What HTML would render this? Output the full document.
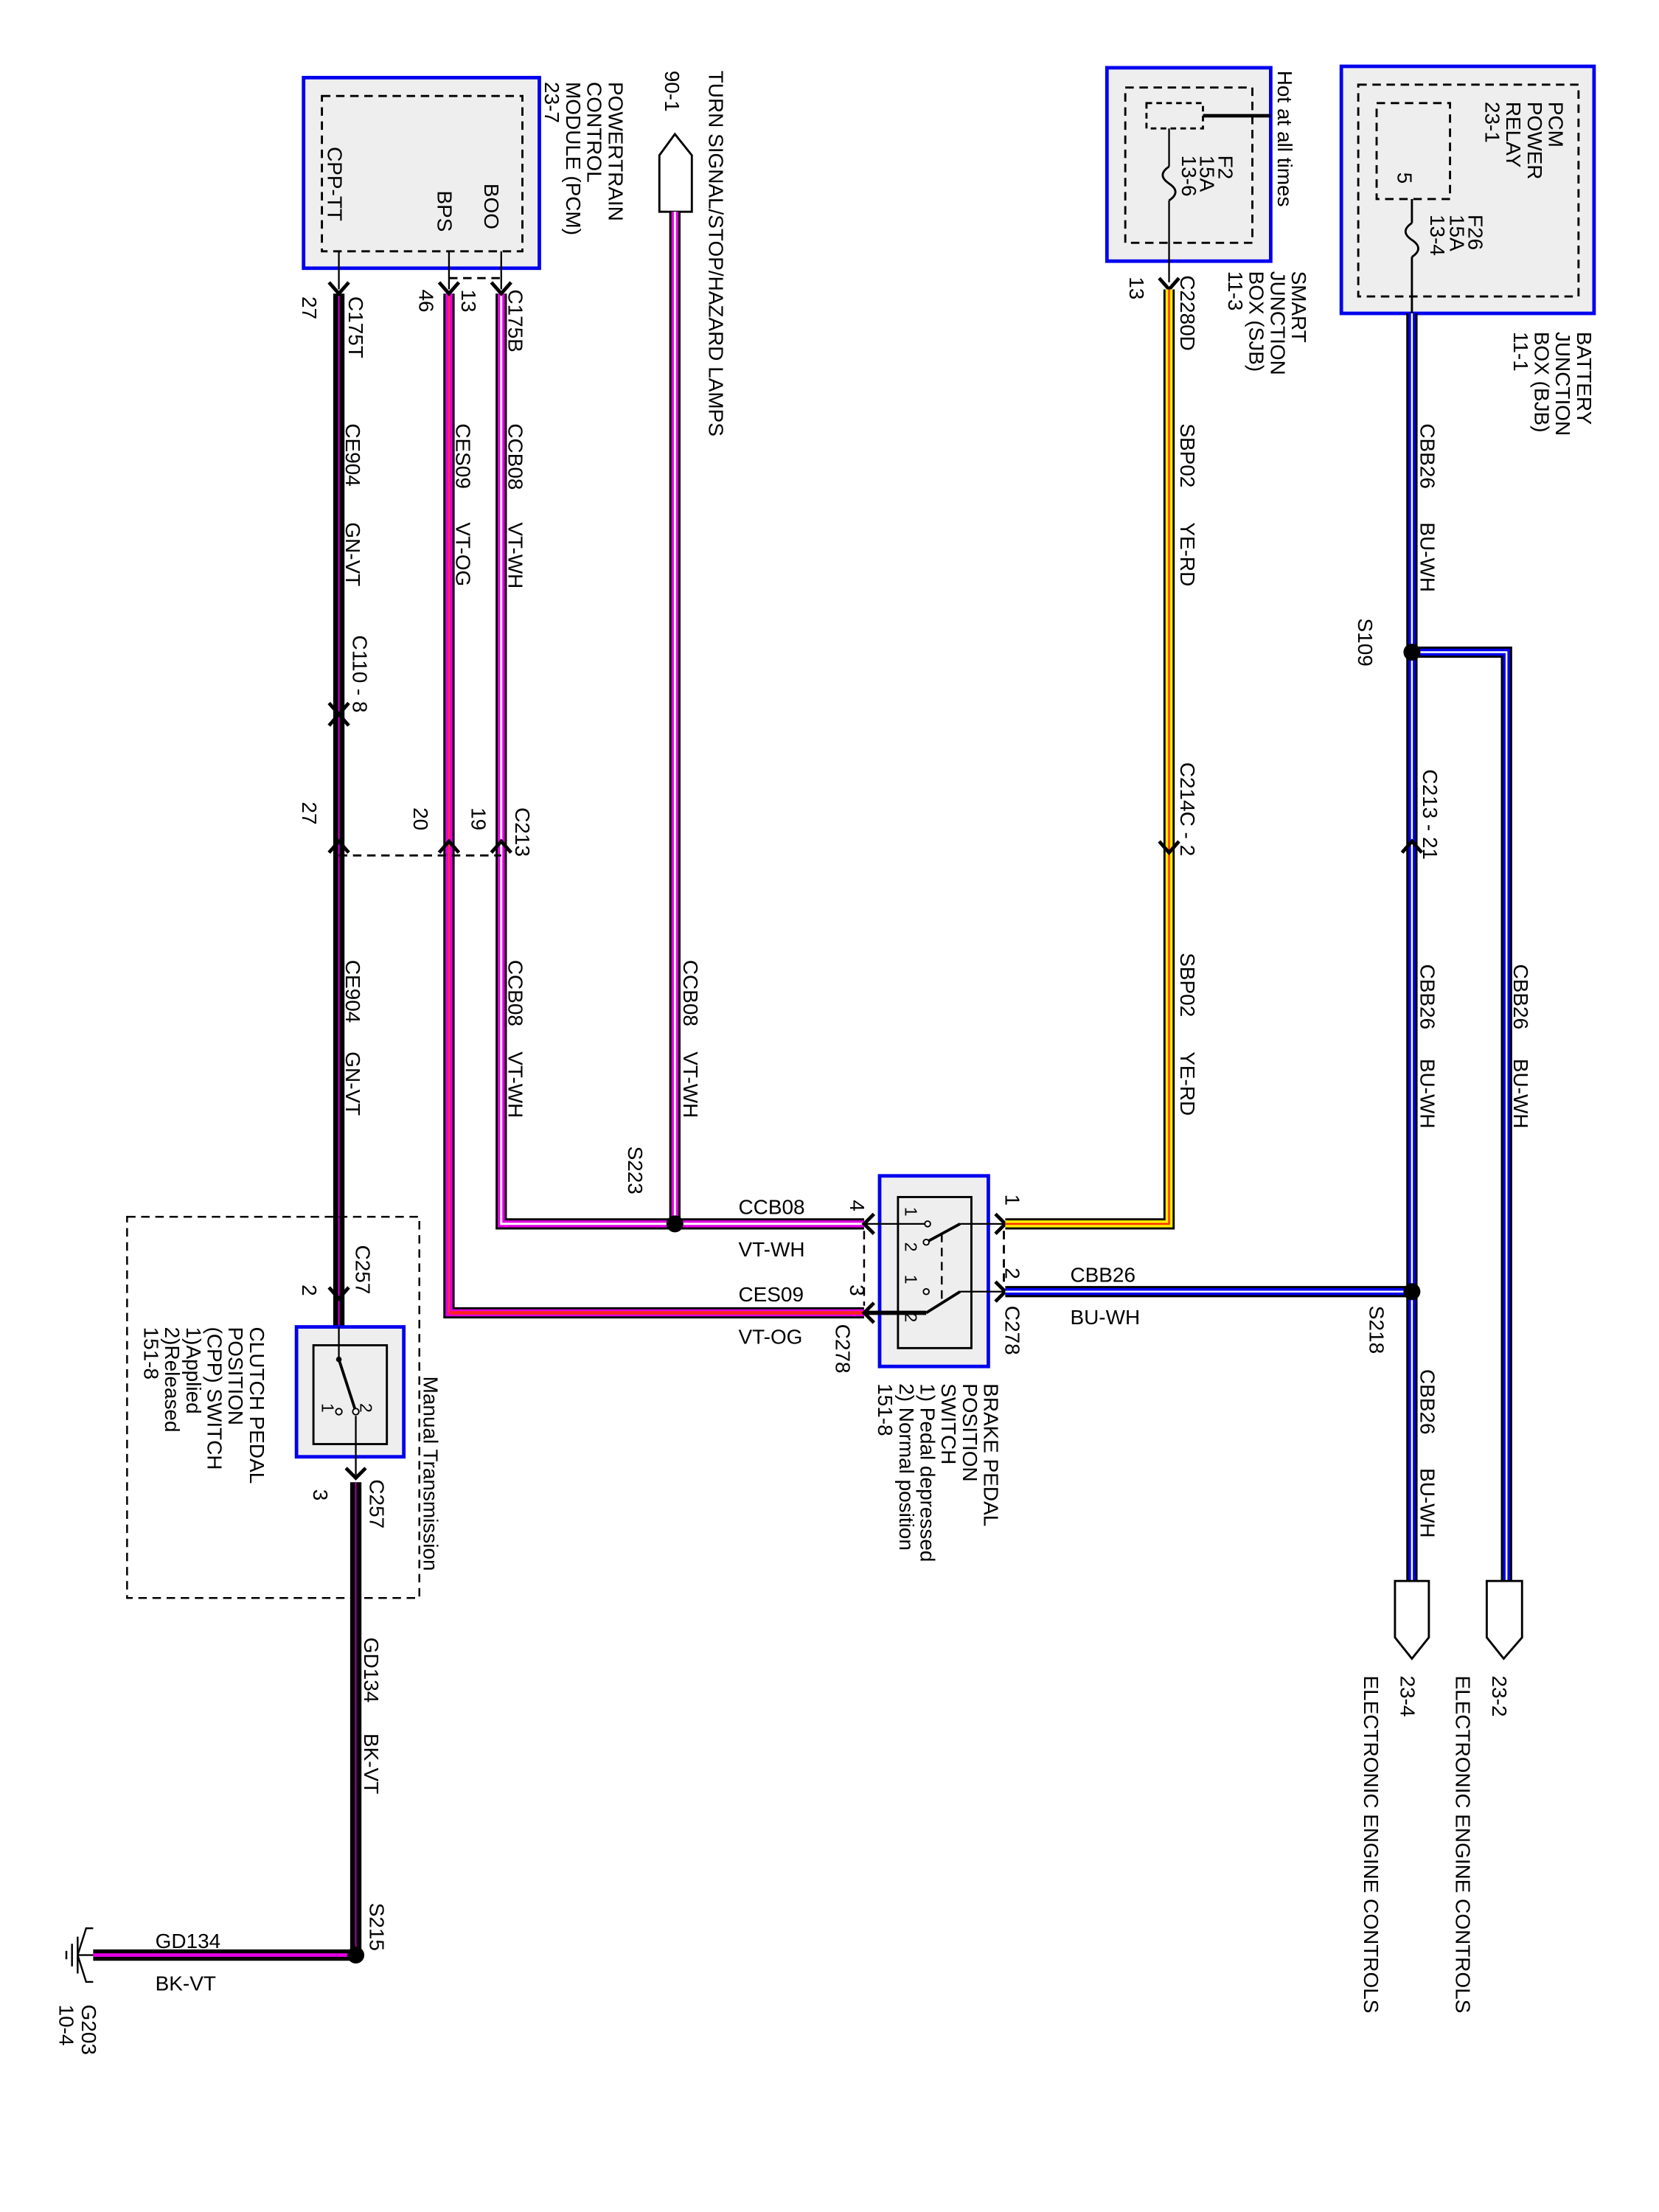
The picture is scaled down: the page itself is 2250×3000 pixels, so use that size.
<!DOCTYPE html>
<html><head><meta charset="utf-8"><style>
html,body{margin:0;padding:0;background:#fff}
svg{display:block}
text{font-family:"Liberation Sans",Arial,sans-serif;font-size:14.6px;fill:#000}
</style></head><body>
<svg width="2250" height="3000" viewBox="0 0 1175 1567" preserveAspectRatio="none" xmlns="http://www.w3.org/2000/svg">
<defs>
<style>
.o{fill:none;stroke:#000;stroke-width:8;stroke-linecap:butt}
.th{fill:none;stroke:#000;stroke-width:1.2}
.d{fill:none;stroke:#000;stroke-width:1.5;stroke-dasharray:6 4}
.box{fill:#eee;stroke:#0000ee;stroke-width:2.5}
.ch{fill:none;stroke:#000;stroke-width:2.5}
</style>
</defs>

<!-- PCM box -->
<rect class="box" x="215" y="55" width="167" height="135"/>
<rect class="d" x="228" y="68" width="142" height="110"/>
<text transform="translate(343,130) rotate(90)">BOO</text>
<text transform="translate(310,135) rotate(90)">BPS</text>
<text transform="translate(232,104) rotate(90)">CPP-TT</text>
<text transform="translate(431,58) rotate(90)">POWERTRAIN</text>
<text transform="translate(416,58) rotate(90)">CONTROL</text>
<text transform="translate(401,58) rotate(90)">MODULE (PCM)</text>
<text transform="translate(386,58) rotate(90)">23-7</text>
<line class="th" x1="240" y1="178" x2="240" y2="205"/>
<line class="th" x1="318" y1="178" x2="318" y2="205"/>
<line class="th" x1="355" y1="178" x2="355" y2="205"/>
<line class="d" x1="318" y1="197" x2="355" y2="197"/>

<!-- Turn signal connector -->
<path d="M467,110 L478,95 L490,110 L490,150 L467,150 Z" fill="#fff" stroke="#000" stroke-width="1.5"/>
<text transform="translate(502,50) rotate(90)">TURN SIGNAL/STOP/HAZARD LAMPS</text>
<text transform="translate(471,50) rotate(90)">90-1</text>

<!-- Wires: GN-VT (black) -->
<path class="o" d="M240,208 L240,940"/>
<path d="M240,208 L240,940" stroke="#e000e0" stroke-width="1" fill="none"/>
<line class="th" x1="240" y1="940" x2="240" y2="975"/>
<!-- VT-OG -->
<path class="o" d="M318,208 L318,930 L612,930"/>
<path d="M318,208 L318,930 L612,930" stroke="#e000e0" stroke-width="5" fill="none"/>
<path d="M318,208 L318,930" stroke="#ff3030" stroke-width="1.2" fill="none"/>
<path d="M318,930 L612,930" stroke="#ff2020" stroke-width="2.5" fill="none"/>
<!-- VT-WH -->
<path class="o" d="M355,208 L355,867 L612,867"/>
<path d="M355,208 L355,867 L612,867" stroke="#e000e0" stroke-width="5" fill="none"/>
<path d="M355,208 L355,867 L612,867" stroke="#fff" stroke-width="1.5" fill="none"/>
<path class="o" d="M478,150 L478,867"/>
<path d="M478,150 L478,867" stroke="#e000e0" stroke-width="5" fill="none"/>
<path d="M478,150 L478,867" stroke="#fff" stroke-width="1.5" fill="none"/>
<circle cx="478" cy="867" r="6"/>

<!-- chevrons PCM -->
<path class="ch" d="M233,200 L240,208 L247,200 M311,200 L318,208 L325,200 M348,200 L355,208 L362,200"/>
<text transform="translate(360,205) rotate(90)">C175B</text>
<text transform="translate(327,205) rotate(90)">13</text>
<text transform="translate(297,205) rotate(90)">46</text>
<text transform="translate(247,210) rotate(90)">C175T</text>
<text transform="translate(214,210) rotate(90)">27</text>
<text transform="translate(360,300) rotate(90)">CCB08</text>
<text transform="translate(360,370) rotate(90)">VT-WH</text>
<text transform="translate(323,300) rotate(90)">CES09</text>
<text transform="translate(323,370) rotate(90)">VT-OG</text>
<text transform="translate(245,300) rotate(90)">CE904</text>
<text transform="translate(245,370) rotate(90)">GN-VT</text>
<text transform="translate(250,450) rotate(90)">C110  -  8</text>
<path class="ch" d="M233,498 L240,506 L247,498 M233,514 L240,506 L247,514"/>
<!-- C213 -->
<path class="ch" d="M233,604 L240,596 L247,604 M311,604 L318,596 L325,604 M348,604 L355,596 L362,604"/>
<line class="d" x1="240" y1="606" x2="355" y2="606"/>
<text transform="translate(214,568) rotate(90)">27</text>
<text transform="translate(293,572) rotate(90)">20</text>
<text transform="translate(334,572) rotate(90)">19</text>
<text transform="translate(365,572) rotate(90)">C213</text>
<text transform="translate(245,680) rotate(90)">CE904</text>
<text transform="translate(245,745) rotate(90)">GN-VT</text>
<text transform="translate(360,680) rotate(90)">CCB08</text>
<text transform="translate(360,745) rotate(90)">VT-WH</text>
<text transform="translate(484,680) rotate(90)">CCB08</text>
<text transform="translate(484,745) rotate(90)">VT-WH</text>
<text transform="translate(445,812) rotate(90)">S223</text>

<!-- Clutch switch -->
<rect x="90" y="862" width="207" height="270" fill="none" stroke="#000" stroke-width="1.3" stroke-dasharray="6 4"/>
<path class="ch" d="M233,912 L240,920 L247,912"/>
<text transform="translate(252,882) rotate(90)">C257</text>
<text transform="translate(214,910) rotate(90)">2</text>
<rect class="box" x="210" y="940" width="76" height="92"/>
<rect x="222" y="953" width="52" height="70" fill="none" stroke="#000" stroke-width="1.5"/>
<line class="th" x1="240" y1="940" x2="240" y2="963"/>
<line x1="240" y1="963" x2="252" y2="1000" stroke="#000" stroke-width="2"/>
<circle cx="240" cy="963" r="2"/>
<circle cx="252" cy="1000" r="2.2" fill="#fff" stroke="#000"/>
<circle cx="240" cy="1000" r="2.2" fill="#fff" stroke="#000"/>
<text transform="translate(255,994) rotate(90)" style="font-size:12px">2</text>
<text transform="translate(228,994) rotate(90)" style="font-size:12px">1</text>
<line class="th" x1="252" y1="1003" x2="252" y2="1045"/>
<path class="ch" d="M245,1040 L252,1047 L259,1040"/>
<text transform="translate(300,975) rotate(90)">Manual Transmission</text>
<text transform="translate(262,1048) rotate(90)">C257</text>
<text transform="translate(222,1055) rotate(90)">3</text>
<text transform="translate(177,940) rotate(90)">CLUTCH PEDAL</text>
<text transform="translate(162,940) rotate(90)">POSITION</text>
<text transform="translate(147,940) rotate(90)">(CPP) SWITCH</text>
<text transform="translate(132,940) rotate(90)">1)Applied</text>
<text transform="translate(117,940) rotate(90)">2)Released</text>
<text transform="translate(102,940) rotate(90)">151-8</text>

<!-- GD134 -->
<path class="o" d="M252,1050 L252,1385"/>
<path d="M252,1050 L252,1385" stroke="#b000b0" stroke-width="1" fill="none"/>
<path class="o" d="M252,1385 L66,1385"/>
<path d="M252,1385 L66,1385" stroke="#e000e0" stroke-width="2.5" fill="none"/>
<circle cx="252" cy="1385" r="6"/>
<text transform="translate(258,1160) rotate(90)">GD134</text>
<text transform="translate(258,1228) rotate(90)">BK-VT</text>
<text transform="translate(262,1348) rotate(90)">S215</text>
<text x="110" y="1380">GD134</text>
<text x="110" y="1410">BK-VT</text>
<path d="M66,1385 L55,1385 M55,1372 L55,1398 M51,1377 L51,1393 M47,1382 L47,1388 M66,1366 L61,1366 L55,1385 L61,1404 L66,1404" fill="none" stroke="#000" stroke-width="1.3"/>
<text transform="translate(58,1420) rotate(90)">G203</text>
<text transform="translate(42,1420) rotate(90)">10-4</text>

<!-- Brake switch -->
<rect class="box" x="623" y="833" width="77" height="135"/>
<rect x="636" y="848" width="52" height="107" fill="none" stroke="#000" stroke-width="1.5"/>
<line class="th" x1="612" y1="867" x2="657" y2="867"/>
<line class="th" x1="680" y1="867" x2="712" y2="867"/>
<line x1="680" y1="867" x2="656" y2="880" stroke="#000" stroke-width="2"/>
<circle cx="657" cy="867" r="2" fill="#fff" stroke="#000"/>
<circle cx="656" cy="880" r="2" fill="#fff" stroke="#000"/>
<line x1="612" y1="930" x2="656" y2="930" stroke="#000" stroke-width="3"/>
<line class="th" x1="680" y1="915" x2="712" y2="915"/>
<line x1="680" y1="915" x2="656" y2="930" stroke="#000" stroke-width="2"/>
<circle cx="656" cy="915" r="2" fill="#fff" stroke="#000"/>
<line x1="667" y1="874" x2="667" y2="921" stroke="#000" stroke-width="1.3" stroke-dasharray="6 4"/>
<line x1="612" y1="872" x2="612" y2="925" stroke="#000" stroke-width="1.3" stroke-dasharray="6 4"/>
<line x1="711" y1="872" x2="711" y2="910" stroke="#000" stroke-width="1.5" stroke-dasharray="6 4"/>
<path class="ch" d="M619,860 L612,867 L619,874 M619,923 L612,930 L619,937 M705,860 L712,867 L705,874 M705,908 L712,915 L705,922"/>
<text transform="translate(641,855) rotate(90)" style="font-size:12px">1</text>
<text transform="translate(641,880) rotate(90)" style="font-size:12px">2</text>
<text transform="translate(641,903) rotate(90)" style="font-size:12px">1</text>
<text transform="translate(641,930) rotate(90)" style="font-size:12px">2</text>
<text x="523" y="860">CCB08</text>
<text x="523" y="890">VT-WH</text>
<text x="523" y="922">CES09</text>
<text x="523" y="952">VT-OG</text>
<text transform="translate(602,850) rotate(90)">4</text>
<text transform="translate(602,910) rotate(90)">3</text>
<text transform="translate(712,846) rotate(90)">1</text>
<text transform="translate(712,898) rotate(90)">2</text>
<text transform="translate(592,938) rotate(90)">C278</text>
<text transform="translate(712,925) rotate(90)">C278</text>
<text x="758" y="908">CBB26</text>
<text x="758" y="938">BU-WH</text>
<text transform="translate(697,980) rotate(90)">BRAKE PEDAL</text>
<text transform="translate(682,980) rotate(90)">POSITION</text>
<text transform="translate(667,980) rotate(90)">SWITCH</text>
<text transform="translate(652,980) rotate(90)">1) Pedal depressed</text>
<text transform="translate(637,980) rotate(90)">2) Normal position</text>
<text transform="translate(622,980) rotate(90)">151-8</text>

<!-- SJB -->
<rect class="box" x="784" y="48" width="116" height="137"/>
<rect class="d" x="797" y="62" width="90" height="110"/>
<rect class="d" x="812" y="73" width="40" height="18" style="stroke-dasharray:4 3"/>
<line x1="852" y1="82" x2="900" y2="82" stroke="#000" stroke-width="2.5"/>
<line class="th" x1="828" y1="91" x2="828" y2="118"/>
<path d="M828,118 C822,122 822,126 828,130 C834,134 834,138 828,142" fill="none" stroke="#000" stroke-width="1.5"/>
<line class="th" x1="828" y1="142" x2="828" y2="200"/>
<path class="ch" d="M821,197 L828,205 L835,197"/>
<text transform="translate(905,50) rotate(90)">Hot at all times</text>
<text transform="translate(863,110) rotate(90)">F2</text>
<text transform="translate(850,110) rotate(90)">15A</text>
<text transform="translate(837,110) rotate(90)">13-6</text>
<text transform="translate(915,192) rotate(90)">SMART</text>
<text transform="translate(900,192) rotate(90)">JUNCTION</text>
<text transform="translate(885,192) rotate(90)">BOX (SJB)</text>
<text transform="translate(870,192) rotate(90)">11-3</text>
<text transform="translate(800,196) rotate(90)">13</text>
<text transform="translate(836,195) rotate(90)">C2280D</text>
<!-- YE-RD -->
<path class="o" d="M828,205 L828,867 L712,867"/>
<path d="M828,205 L828,867 L712,867" stroke="#ffee00" stroke-width="5" fill="none"/>
<path d="M828,205 L828,867 L712,867" stroke="#ff3000" stroke-width="1.3" fill="none"/>
<path class="ch" d="M821,596 L828,604 L835,596"/>
<text transform="translate(836,300) rotate(90)">SBP02</text>
<text transform="translate(836,370) rotate(90)">YE-RD</text>
<text transform="translate(836,540) rotate(90)">C214C  -  2</text>
<text transform="translate(836,675) rotate(90)">SBP02</text>
<text transform="translate(836,745) rotate(90)">YE-RD</text>

<!-- BJB -->
<rect class="box" x="950" y="47" width="179" height="175"/>
<rect class="d" x="962" y="60" width="156" height="150"/>
<rect class="d" x="975" y="73" width="52" height="68"/>
<line x1="1000" y1="141" x2="1000" y2="158" stroke="#000" stroke-width="1.5"/>
<path d="M1000,158 C994,162 994,166 1000,170 C1006,174 1006,178 1000,182" fill="none" stroke="#000" stroke-width="1.5"/>
<line x1="1000" y1="182" x2="1000" y2="222" stroke="#000" stroke-width="1.5"/>
<text transform="translate(1097,72) rotate(90)">PCM</text>
<text transform="translate(1082,72) rotate(90)">POWER</text>
<text transform="translate(1067,72) rotate(90)">RELAY</text>
<text transform="translate(1052,72) rotate(90)">23-1</text>
<text transform="translate(990,122) rotate(90)">5</text>
<text transform="translate(1040,152) rotate(90)">F26</text>
<text transform="translate(1027,152) rotate(90)">15A</text>
<text transform="translate(1013,152) rotate(90)">13-4</text>
<text transform="translate(1117,235) rotate(90)">BATTERY</text>
<text transform="translate(1102,235) rotate(90)">JUNCTION</text>
<text transform="translate(1087,235) rotate(90)">BOX (BJB)</text>
<text transform="translate(1072,235) rotate(90)">11-1</text>
<!-- BU-WH -->
<path class="o" d="M1000,222 L1000,1120"/>
<path d="M1000,222 L1000,1120" stroke="#0000ee" stroke-width="5" fill="none"/>
<path d="M1000,222 L1000,1120" stroke="#fff" stroke-width="1.3" fill="none"/>
<path class="o" d="M1000,462 L1067,462 L1067,1120"/>
<path d="M1000,462 L1067,462 L1067,1120" stroke="#0000ee" stroke-width="5" fill="none"/>
<path d="M1000,462 L1067,462 L1067,1120" stroke="#fff" stroke-width="1.3" fill="none"/>
<path class="o" d="M1000,915 L712,915"/>
<path d="M1000,915 L712,915" stroke="#0000ee" stroke-width="5" fill="none"/>
<path d="M1000,915 L712,915" stroke="#fff" stroke-width="1.3" fill="none"/>
<circle cx="1000" cy="462" r="6"/>
<circle cx="1000" cy="915" r="6"/>
<path class="ch" d="M993,604 L1000,596 L1007,604"/>
<text transform="translate(1006,300) rotate(90)">CBB26</text>
<text transform="translate(1006,370) rotate(90)">BU-WH</text>
<text transform="translate(962,438) rotate(90)">S109</text>
<text transform="translate(1008,545) rotate(90)">C213  -  21</text>
<text transform="translate(1006,683) rotate(90)">CBB26</text>
<text transform="translate(1006,750) rotate(90)">BU-WH</text>
<text transform="translate(1072,683) rotate(90)">CBB26</text>
<text transform="translate(1072,750) rotate(90)">BU-WH</text>
<text transform="translate(970,925) rotate(90)">S218</text>
<text transform="translate(1006,970) rotate(90)">CBB26</text>
<text transform="translate(1006,1040) rotate(90)">BU-WH</text>
<!-- bottom connectors -->
<path d="M988,1120 L1012,1120 L1012,1160 L1000,1175 L988,1160 Z" fill="#fff" stroke="#000" stroke-width="1.5"/>
<path d="M1053,1120 L1078,1120 L1078,1160 L1065,1175 L1053,1160 Z" fill="#fff" stroke="#000" stroke-width="1.5"/>
<text transform="translate(992,1187) rotate(90)">23-4</text>
<text transform="translate(966,1187) rotate(90)">ELECTRONIC ENGINE CONTROLS</text>
<text transform="translate(1057,1187) rotate(90)">23-2</text>
<text transform="translate(1031,1187) rotate(90)">ELECTRONIC ENGINE CONTROLS</text>
</svg>
</body></html>
